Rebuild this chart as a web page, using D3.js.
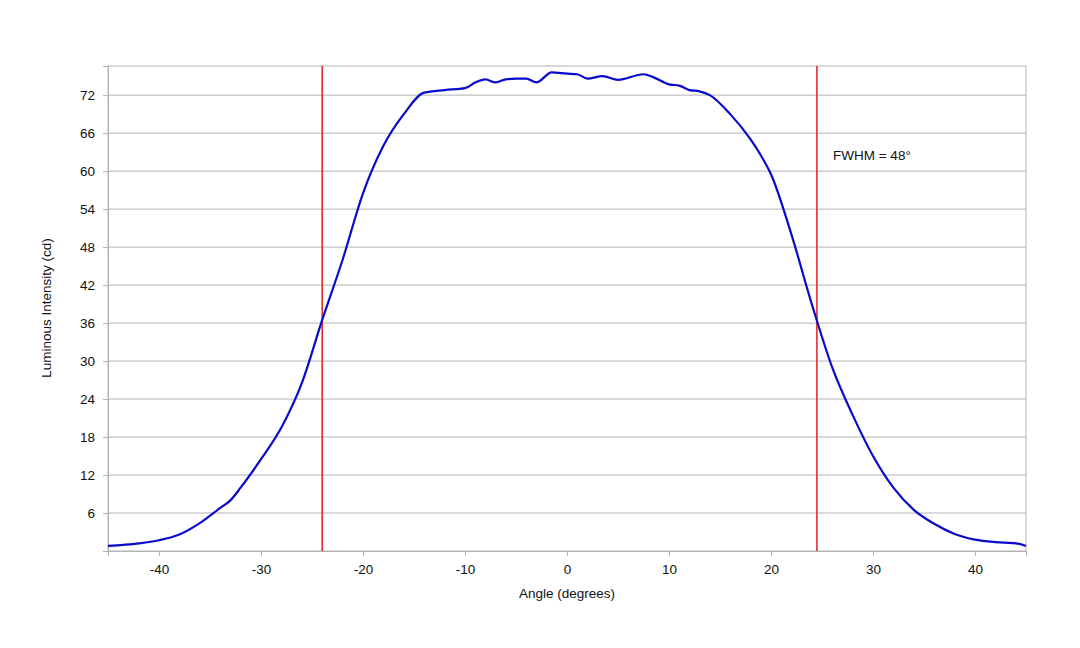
<!DOCTYPE html><html><head><meta charset="utf-8"><script src="https://cdn.jsdelivr.net/npm/d3@7"></script>
<style>body{margin:0;background:#fff}text{font-family:"Liberation Sans",Arial,sans-serif;font-size:13px;fill:#111}</style></head><body><svg id="c" width="1080" height="648"></svg><script>
const angles=[-45,-42,-40,-38,-36,-34,-33,-32,-30,-28,-26,-24,-22,-20,-18,-16,-14,-12,-10,-9,-8,-7,-6,-5,-4,-3,-1.5,0,1,2,3.5,5,7.5,8.5,10,11,12,13,14,16,18,19,20,22,24,26,28,30,32,34,36,38,40,42,44,45];
const intensity=[0.8,1.2,1.7,2.6,4.4,6.8,8,10,14.5,19.5,26.5,36.5,46,56.5,64,69,72.4,72.8,73.1,74,74.5,74,74.5,74.6,74.6,74,75.6,75.4,75.3,74.6,75,74.4,75.3,74.8,73.7,73.5,72.8,72.6,72,69,65,62.5,59.5,50,39,29,21.5,15,10,6.5,4.3,2.7,1.8,1.4,1.2,0.8];
const xTicks=[-40,-30,-20,-10,0,10,20,30,40];
const yTicks=[6,12,18,24,30,36,42,48,54,60,66,72];
const markers=[-24,24.5];
const svg=d3.select("#c");
const x=d3.scaleLinear().domain([-45,45]).range([108,1026]);
const y=d3.scaleLinear().domain([0,76.6]).range([551,66]);
svg.append("g").selectAll("line").data(yTicks).join("line").attr("x1",108).attr("x2",1026).attr("y1",d=>y(d)).attr("y2",d=>y(d)).attr("stroke","#b3b3b3");
svg.append("rect").attr("x",108).attr("y",66).attr("width",918).attr("height",485).attr("fill","none").attr("stroke","#b3b3b3");
const xa=svg.append("g").attr("transform","translate(0,551)").call(d3.axisBottom(x).tickValues(xTicks).tickSize(5).tickPadding(8).tickFormat(d=>String(d)));
const ya=svg.append("g").attr("transform","translate(108,0)").call(d3.axisLeft(y).tickValues(yTicks).tickSize(5).tickPadding(8));
[xa,ya].forEach(a=>{a.select(".domain").attr("stroke","#b3b3b3");a.selectAll(".tick line").attr("stroke","#b3b3b3");a.selectAll("text").style("font-size","13.5px").attr("fill","#111");});
svg.selectAll(".mk").data(markers).join("line").attr("x1",d=>x(d)).attr("x2",d=>x(d)).attr("y1",66).attr("y2",551).attr("stroke","#dd2222").attr("stroke-width",1.5);
svg.append("path").datum(angles.map((a,i)=>[a,intensity[i]])).attr("fill","none").attr("stroke","#0a0acc").attr("stroke-width",2.2)
.attr("d",d3.line().x(d=>x(d[0])).y(d=>y(d[1])).curve(d3.curveMonotoneX));
svg.append("text").attr("x",833).attr("y",160).style("font-size","13.5px").text("FWHM = 48°");
svg.append("text").attr("x",567).attr("y",598).attr("text-anchor","middle").style("font-size","13.5px").text("Angle (degrees)");
svg.append("text").attr("transform","translate(51,308) rotate(-90)").attr("text-anchor","middle").style("font-size","13.5px").text("Luminous Intensity (cd)");
</script></body></html>
